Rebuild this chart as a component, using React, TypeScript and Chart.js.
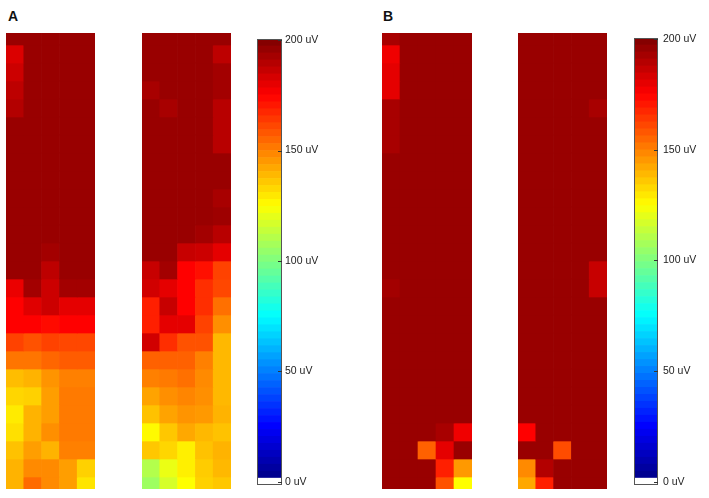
import React, { useEffect, useRef } from "react";
import { Chart, registerables } from "chart.js";

Chart.register(...registerables);

// saturated (dark red) cells
const S = 195;

const columns = ["c1", "c2", "c3", "c4", "c5"];

const panelA1: number[][] = [
  [S, S, S, S, S],
  [182, S, S, S, S],
  [185, S, S, S, S],
  [188, S, S, S, S],
  [190, S, S, S, S],
  [S, S, S, S, S],
  [S, S, S, S, S],
  [S, S, S, S, S],
  [S, S, S, S, S],
  [S, S, S, S, S],
  [S, S, S, S, S],
  [S, S, S, S, S],
  [S, S, 193, S, S],
  [S, S, 188, S, S],
  [179, 193, 185, 193, 193],
  [175, 181, 185, 180, 180],
  [175, 175, 173, 175, 175],
  [162, 159, 162, 161, 161],
  [152, 152, 155, 157, 157],
  [138, 140, 146, 150, 150],
  [133, 134, 144, 151, 151],
  [129, 140, 144, 151, 151],
  [131, 140, 147, 151, 151],
  [137, 144, 140, 150, 150],
  [140, 148, 148, 144, 134],
  [140, 154, 148, 144, 130],
];

const panelA2: number[][] = [
  [S, S, S, S, S],
  [S, S, S, S, 188],
  [S, S, S, S, 193],
  [192, S, S, S, 193],
  [S, 192, S, S, 189],
  [S, S, S, S, 189],
  [S, S, S, S, 189],
  [S, S, S, S, S],
  [S, S, S, S, S],
  [S, S, S, S, 192],
  [S, S, S, S, 194],
  [S, S, S, 193, 189],
  [S, S, 186, 185, 180],
  [186, 193, 175, 172, 162],
  [184, 180, 175, 166, 161],
  [169, 186, 175, 166, 153],
  [169, 180, 180, 162, 147],
  [184, 166, 159, 159, 139],
  [156, 156, 156, 150, 139],
  [150, 151, 153, 148, 139],
  [143, 147, 149, 147, 139],
  [137, 143, 146, 145, 140],
  [126, 136, 142, 139, 137],
  [136, 133, 128, 137, 140],
  [110, 121, 128, 135, 139],
  [106, 117, 125, 134, 136],
];

const panelB1: number[][] = [
  [192, S, S, S, S],
  [178, S, S, S, S],
  [180, S, S, S, S],
  [180, S, S, S, S],
  [192, S, S, S, S],
  [192, S, S, S, S],
  [192, S, S, S, S],
  [S, S, S, S, S],
  [S, S, S, S, S],
  [S, S, S, S, S],
  [S, S, S, S, S],
  [S, S, S, S, S],
  [S, S, S, S, S],
  [S, S, S, S, S],
  [193, S, S, S, S],
  [S, S, S, S, S],
  [S, S, S, S, S],
  [S, S, S, S, S],
  [S, S, S, S, S],
  [S, S, S, S, S],
  [S, S, S, S, S],
  [S, S, S, S, S],
  [S, S, S, 192, 178],
  [S, S, 156, 180, S],
  [S, S, S, 169, 145],
  [S, S, S, 159, 125],
];

const panelB2: number[][] = [
  [S, S, S, S, S],
  [S, S, S, S, S],
  [S, S, S, S, S],
  [S, S, S, S, S],
  [S, S, S, S, 192],
  [S, S, S, S, S],
  [S, S, S, S, S],
  [S, S, S, S, S],
  [S, S, S, S, S],
  [S, S, S, S, S],
  [S, S, S, S, S],
  [S, S, S, S, S],
  [S, S, S, S, S],
  [S, S, S, S, 186],
  [S, S, S, S, 186],
  [S, S, S, S, S],
  [S, S, S, S, S],
  [S, S, S, S, S],
  [S, S, S, S, S],
  [S, S, S, S, S],
  [S, S, S, S, S],
  [S, S, S, S, S],
  [175, S, S, S, S],
  [S, S, 160, S, S],
  [148, 190, S, S, S],
  [142, 169, S, S, S],
];

const colorbarTicks = [0, 50, 100, 150, 200];
const tickUnit = "uV";
const scaleMin = -1.5;
const scaleMax = 200.5;
const whiteTop = 1.6;
const colorSteps = 63;

const FONT = '"Liberation Sans", Arial, Helvetica, sans-serif';

function jet(v: number): string {
  const t = Math.min(1, Math.max(0, v / 200));
  const c = (x: number) =>
    Math.round(255 * Math.min(1, Math.max(0, 1.5 - Math.abs(4 * t - x))));
  return `rgb(${c(3)},${c(2)},${c(1)})`;
}

function Heatmap(props: { rows: number[][]; left: number; top: number; width: number; height: number }) {
  const { rows, left, top, width, height } = props;
  const ref = useRef<HTMLCanvasElement>(null);
  useEffect(() => {
    const chart = new Chart(ref.current as HTMLCanvasElement, {
      type: "bar",
      data: {
        labels: columns,
        datasets: rows.map((row, i) => ({
          data: row.map(() => [i, i + 1]),
          backgroundColor: row.map((v) => jet(v)),
          borderWidth: 0,
          barPercentage: 1,
          categoryPercentage: 1,
          grouped: false,
          clip: 0,
        })),
      } as any,
      options: {
        responsive: false,
        animation: false,
        events: [],
        layout: { padding: 0 },
        plugins: { legend: { display: false }, tooltip: { enabled: false } },
        scales: {
          x: { display: false },
          y: { type: "linear", display: false, reverse: true, min: 1 / 3, max: rows.length - 1 / 3 },
        },
      } as any,
    });
    return () => chart.destroy();
  }, [rows]);
  return (
    <canvas
      ref={ref}
      width={width}
      height={height}
      style={{ position: "absolute", left, top, width, height }}
    />
  );
}

const framePlugin = {
  id: "cbframe",
  afterDatasetsDraw(chart: any) {
    const { ctx, chartArea: a, scales } = chart;
    ctx.save();
    ctx.strokeStyle = "#555555";
    ctx.lineWidth = 1;
    ctx.strokeRect(Math.round(a.left) + 0.5, Math.round(a.top) + 0.5, Math.round(a.width) - 1, Math.round(a.height) - 1);
    ctx.beginPath();
    for (const v of colorbarTicks) {
      const y = Math.round(scales.y.getPixelForValue(v)) + 0.5;
      ctx.moveTo(a.right - 4, y);
      ctx.lineTo(a.right, y);
    }
    ctx.strokeStyle = "#333333";
    ctx.stroke();
    ctx.restore();
  },
};

function Colorbar(props: { left: number; top: number; width: number; height: number; labelPad: number }) {
  const { left, top, width, height, labelPad } = props;
  const ref = useRef<HTMLCanvasElement>(null);
  const labelW = 45;
  const pad = 10;
  useEffect(() => {
    const segs: { lo: number; hi: number; color: string }[] = [
      { lo: scaleMin, hi: whiteTop, color: "#ffffff" },
    ];
    const step = (scaleMax - whiteTop) / colorSteps;
    for (let k = 0; k < colorSteps; k++) {
      const lo = whiteTop + k * step;
      const hi = lo + step;
      segs.push({ lo, hi, color: jet((lo + hi) / 2) });
    }
    const chart = new Chart(ref.current as HTMLCanvasElement, {
      type: "bar",
      data: {
        labels: ["bar"],
        datasets: segs.map((s) => ({
          data: [[s.lo, s.hi]],
          backgroundColor: s.color,
          borderWidth: 0,
          barPercentage: 1,
          categoryPercentage: 1,
          grouped: false,
          clip: 0,
        })),
      } as any,
      options: {
        responsive: false,
        animation: false,
        events: [],
        layout: { padding: { top: pad, bottom: pad, left: 0, right: 0 } },
        plugins: { legend: { display: false }, tooltip: { enabled: false } },
        scales: {
          x: { display: false },
          y: {
            type: "linear",
            position: "right",
            min: scaleMin,
            max: scaleMax,
            afterBuildTicks: (s: any) => {
              s.ticks = colorbarTicks.map((v) => ({ value: v }));
            },
            afterFit: (s: any) => {
              s.width = labelW;
              s.paddingTop = 0;
              s.paddingBottom = 0;
            },
            ticks: {
              callback: (v: any) => `${v} ${tickUnit}`,
              font: { family: FONT, size: 10.5 },
              color: "#222222",
              padding: labelPad,
              autoSkip: false,
            },
            grid: { display: false, drawTicks: false },
            border: { display: false },
          },
        },
      } as any,
      plugins: [framePlugin],
    });
    return () => chart.destroy();
  }, []);
  const cw = width + labelW;
  const ch = height + 2 * pad;
  return (
    <canvas
      ref={ref}
      width={cw}
      height={ch}
      style={{ position: "absolute", left, top: top - pad, width: cw, height: ch }}
    />
  );
}

const titleStyle: React.CSSProperties = {
  position: "absolute",
  fontFamily: FONT,
  fontWeight: "bold",
  fontSize: 14,
  color: "#111",
  lineHeight: "16px",
};

export default function App() {
  return (
    <div
      style={{
        position: "absolute",
        left: 0,
        top: 0,
        width: 709,
        height: 498,
        background: "#ffffff",
        overflow: "hidden",
      }}
    >
      <div style={{ ...titleStyle, left: 8, top: 8 }}>A</div>
      <div style={{ ...titleStyle, left: 383, top: 8 }}>B</div>
      <Heatmap rows={panelA1} left={6} top={33} width={89} height={456} />
      <Heatmap rows={panelA2} left={142} top={33} width={89} height={456} />
      <Colorbar left={257} top={39} width={25} height={446} labelPad={3} />
      <Heatmap rows={panelB1} left={382} top={33} width={90} height={456} />
      <Heatmap rows={panelB2} left={518} top={33} width={89} height={456} />
      <Colorbar left={634} top={38} width={24} height={447} labelPad={5} />
    </div>
  );
}
